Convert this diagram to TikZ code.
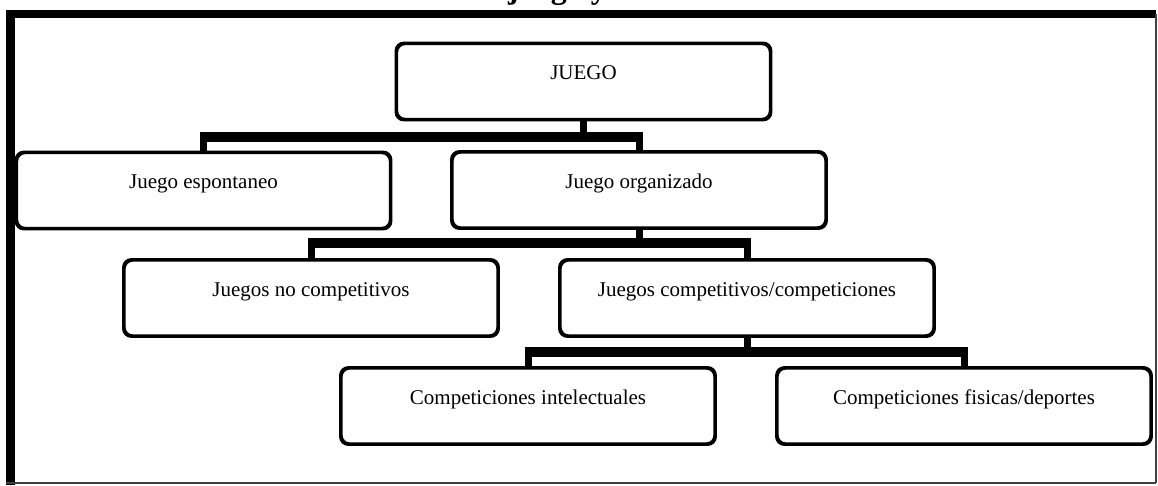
\documentclass[tikz,border=0pt]{standalone}
\usepackage{fontspec}
\setmainfont{Liberation Serif}
\newcommand\bxt[1]{\raisebox{2pt}[0pt][0pt]{#1}}
\begin{document}
\begin{tikzpicture}[x=1pt,y=-1pt,
  box/.style={draw=black, fill=white, line width=2.4pt, rounded corners=8pt,
    minimum width=373pt, minimum height=75pt, inner sep=0pt,
    font=\fontsize{21}{25}\selectfont},
  vline/.style={draw=black, line width=7pt},
  hbar/.style={draw=black, line width=10pt, shorten <=-3.5pt, shorten >=-3.5pt},
  frameth/.style={draw=black, line width=8.5pt},
  framethin/.style={draw=black!75, line width=2pt}]
\useasboundingbox (0,0) rectangle (1158,485);
% outer frame
\coordinate (fTL) at (10.5,14);
\coordinate (fTR) at (1156,14);
\coordinate (fBL) at (10.5,485);
\coordinate (fBR) at (1156,483);
\draw[frameth] (fBL) -- (fTL) -- (fTR);
\draw[framethin] (fTR) -- (fBR);
\draw[framethin] (6,483) -- (fBR);
% cut-off title
\begin{scope}
\clip (0,0) rectangle (1158,485);
\node[anchor=base west, inner sep=0pt, font=\bfseries\fontsize{32}{36}\selectfont] (title) at (508,-2) {juego y};
\end{scope}
% boxes
\node[box] (juego) at (583.5,81.5) {\bxt{JUEGO}};
\node[box] (esp) at (203.5,190.5) {\bxt{Juego espontaneo}};
\node[box] (org) at (639,190) {\bxt{Juego organizado}};
\node[box] (noc) at (311,298) {\bxt{Juegos no competitivos}};
\node[box] (comp) at (747,298) {\bxt{Juegos competitivos/competiciones}};
\node[box] (intel) at (528,406) {\bxt{Competiciones intelectuales}};
\node[box] (fis) at (964,406) {\bxt{Competiciones fisicas/deportes}};
% bar levels
\coordinate (b1) at (0,137);
\coordinate (b2) at (0,243);
\coordinate (b3) at (0,352);
% connectors level 1
\draw[vline] (juego.south) -- (juego.south |- b1);
\draw[vline] (esp.north |- b1) -- (esp.north);
\draw[vline] (org.north |- b1) -- (org.north);
\draw[hbar] (esp.north |- b1) -- (org.north |- b1);
% level 2
\draw[vline] (org.south) -- (org.south |- b2);
\draw[vline] (noc.north |- b2) -- (noc.north);
\draw[vline] (comp.north |- b2) -- (comp.north);
\draw[hbar] (noc.north |- b2) -- (comp.north |- b2);
% level 3
\draw[vline] (comp.south) -- (comp.south |- b3);
\draw[vline] (intel.north |- b3) -- (intel.north);
\draw[vline] (fis.north |- b3) -- (fis.north);
\draw[hbar] (intel.north |- b3) -- (fis.north |- b3);
% redraw box borders on top of connectors
\foreach \n in {juego,esp,org,noc,comp,intel,fis}{
  \draw[line width=2.4pt, rounded corners=8pt] (\n.south west) rectangle (\n.north east);
}
\end{tikzpicture}
\end{document}
